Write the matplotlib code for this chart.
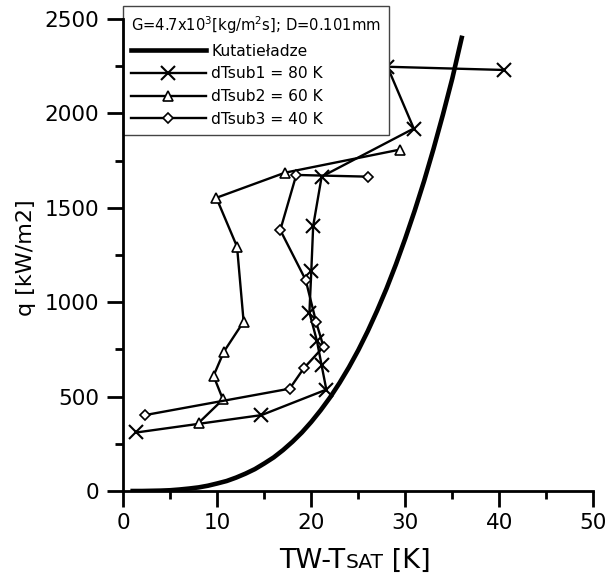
import numpy as np
import matplotlib.pyplot as plt
from matplotlib.ticker import MultipleLocator
from matplotlib.offsetbox import TextArea, HPacker, AnnotationBbox

plt.rcParams['font.family'] = 'DejaVu Sans'
plt.rcParams['mathtext.default'] = 'regular'

# Kutateladze correlation
dt_kut = [1, 2, 3, 4, 5, 6, 7, 8, 9, 10, 11, 12, 13, 14, 15, 16, 17, 18,
          19, 20, 21, 22, 23, 24, 25, 26, 27, 28, 29, 30, 31, 32, 33, 34, 35, 36]
q_kut = [0, 0, 1, 2, 4, 8, 13, 19, 28, 40, 53, 71, 92, 116, 146, 178, 217, 261,
         310, 366, 428, 496, 572, 655, 746, 846, 955, 1072, 1200, 1338, 1485, 1642,
         1812, 1993, 2185, 2400]

# dTsub1 = 80 K
dt_sub1 = [1.4, 14.7, 21.6, 21.1, 20.6, 19.8, 20.0, 20.2, 21.1, 30.9, 28.1, 40.5]
q_sub1 = [310, 402, 537, 665, 795, 945, 1165, 1404, 1665, 1920, 2247, 2230]

# dTsub2 = 60 K
dt_sub2 = [8.0, 10.6, 9.6, 10.7, 12.8, 12.1, 9.9, 17.2, 29.4]
q_sub2 = [360, 485, 610, 738, 897, 1294, 1553, 1686, 1808]

# dTsub3 = 40 K
dt_sub3 = [2.3, 17.7, 19.2, 21.3, 20.5, 19.4, 16.7, 18.4, 26.0]
q_sub3 = [402, 542, 650, 764, 897, 1118, 1382, 1674, 1665]

W, H = 608, 579
fig = plt.figure(figsize=(W / 100, H / 100), dpi=100)
ax = fig.add_axes([123.3 / W, 1 - 491 / H, (593.3 - 123.3) / W, (491 - 19) / H])

k_line, = ax.plot(dt_kut, q_kut, color='black', lw=3.3, label='Kutatieładze')
l1, = ax.plot(dt_sub1, q_sub1, color='black', lw=1.7, marker='x', ms=9.5, mew=1.5,
              label='dTsub1 = 80 K')
l2, = ax.plot(dt_sub2, q_sub2, color='black', lw=1.7, marker='^', ms=7.5, mew=1.2,
              mfc='white', label='dTsub2 = 60 K')
l3, = ax.plot(dt_sub3, q_sub3, color='black', lw=1.7, marker='D', ms=5.5, mew=1.2,
              mfc='white', label='dTsub3 = 40 K')

ax.set_xlim(0, 50)
ax.set_ylim(0, 2500)
ax.xaxis.set_major_locator(MultipleLocator(10))
ax.xaxis.set_minor_locator(MultipleLocator(5))
ax.yaxis.set_major_locator(MultipleLocator(500))
ax.yaxis.set_minor_locator(MultipleLocator(250))

for s in ['top', 'right']:
    ax.spines[s].set_visible(False)
for s in ['left', 'bottom']:
    ax.spines[s].set_linewidth(2)
    ax.spines[s].set_zorder(6)

ax.tick_params(which='major', length=11.5, width=2, labelsize=15.5, direction='out')
ax.tick_params(which='minor', length=6, width=2, direction='out')
ax.tick_params(axis='x', which='major', pad=4.5)
ax.tick_params(axis='y', which='major', pad=6)

leg = ax.legend(handles=[k_line, l1, l2, l3], loc='upper left',
                bbox_to_anchor=(123 / W, 1 - 6 / H), bbox_transform=fig.transFigure,
                borderaxespad=0, title=r'G=4.7x10$^3$[kg/m$^2$s]; D=0.101mm',
                title_fontsize=10.6, fontsize=11.2, handlelength=4.8, handletextpad=0.35,
                borderpad=0.52, labelspacing=0.5, fancybox=False, framealpha=1,
                edgecolor='#444444', alignment='left')
leg.get_frame().set_linewidth(1.0)

# x label with the smaller "SAT"
parts = [TextArea('TW-T', textprops=dict(size=19.5)),
         TextArea('SAT', textprops=dict(size=14.6)),
         TextArea(' [K]', textprops=dict(size=19.5))]
box = HPacker(children=parts, align='baseline', pad=0, sep=0)
ab = AnnotationBbox(box, (355 / W, 1 - 561 / H), xycoords='figure fraction',
                    frameon=False, box_alignment=(0.5, 0.5))
fig.add_artist(ab)

fig.text(26 / W, 1 - 258 / H, 'q [kW/m2]', rotation=90, ha='center', va='center',
         fontsize=16)

fig.savefig('out.png', dpi=100)
